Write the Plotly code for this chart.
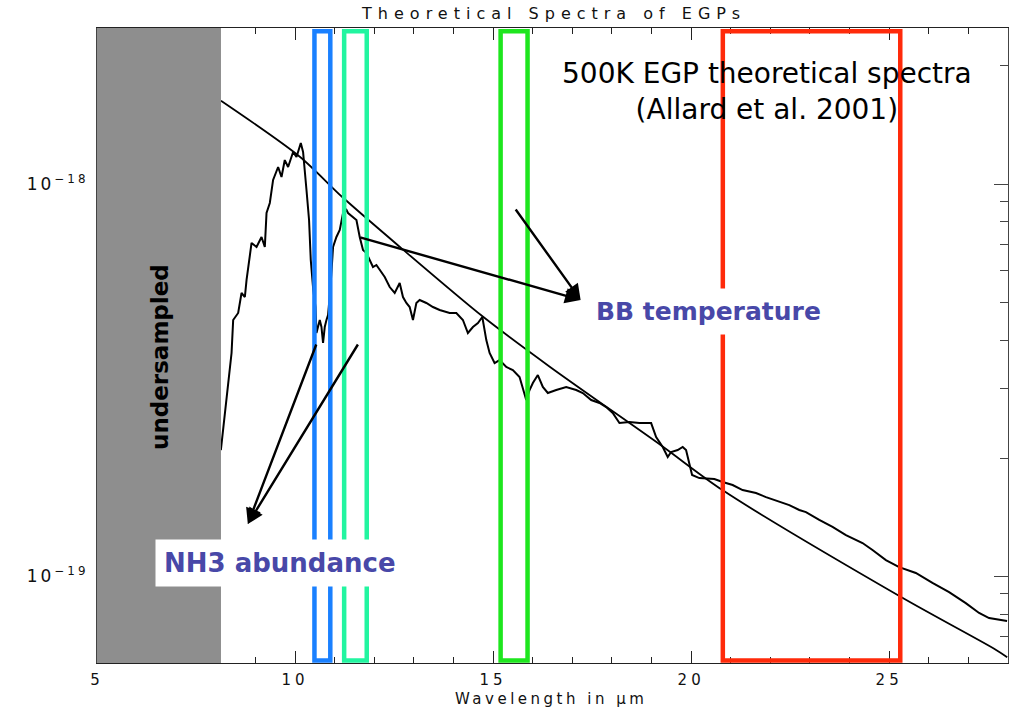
import numpy as np
import plotly.graph_objects as go

# ---------------- data ----------------
# Theoretical 500K EGP spectrum (flux in units of 1e-19)
wavelength_um = [8.127, 8.311, 8.397, 8.438, 8.564, 8.649, 8.733, 8.776, 8.859, 8.902,
                 9.028, 9.154, 9.237, 9.280, 9.363, 9.446, 9.573, 9.658, 9.741, 9.825,
                 9.951, 10.037, 10.145, 10.203, 10.289, 10.354, 10.397, 10.46, 10.516, 10.541,
                 10.624, 10.667, 10.707, 10.750, 10.793, 10.833, 10.889, 10.919, 10.960, 11.045,
                 11.129, 11.212, 11.298, 11.338, 11.464, 11.550, 11.633, 11.716, 11.802, 11.885,
                 11.968, 12.054, 12.180, 12.264, 12.390, 12.516, 12.642, 12.725, 12.811, 12.894,
                 12.977, 13.063, 13.146, 13.315, 13.482, 13.651, 13.903, 14.072, 14.238, 14.364,
                 14.491, 14.617, 14.728, 14.829, 14.912, 15.038, 15.164, 15.333, 15.499, 15.668,
                 15.837, 15.921, 16.004, 16.130, 16.256, 16.382, 16.594, 16.846, 17.098, 17.265,
                 17.477, 17.686, 17.855, 18.021, 18.190, 18.443, 18.695, 18.990, 19.116, 19.283,
                 19.409, 19.494, 19.661, 19.787, 19.872, 19.955, 20.024, 20.208, 20.460, 20.586,
                 20.796, 21.048, 21.300, 21.638, 21.890, 22.226, 22.478, 22.730, 22.899, 23.235,
                 23.570, 23.908, 24.327, 24.579, 24.917, 25.252, 25.673, 26.092, 26.513, 26.934,
                 27.270, 27.522, 27.976]
flux_1e19 = [2.096, 3.162, 3.706, 4.499, 4.688, 5.272, 5.149, 5.691, 6.668, 7.072,
             6.908, 7.326, 6.908, 8.433, 8.944, 10.24, 11.05, 10.42, 11.51, 11.05,
             12.07, 11.72, 12.72, 12.07, 9.654, 8.094, 6.399, 5.366, 4.864, 4.168,
             4.499, 4.317, 3.930, 4.317, 4.499, 4.633, 5.366, 5.929, 6.908, 7.326,
             7.633, 8.433, 8.586, 8.433, 8.239, 8.094, 7.326, 6.786, 6.668, 6.399,
             6.142, 6.214, 5.929, 5.791, 5.460, 5.272, 5.590, 5.149, 4.971, 4.856,
             4.499, 4.971, 5.060, 4.971, 4.856, 4.771, 4.688, 4.688, 4.499, 4.168,
             4.317, 4.419, 4.579, 3.999, 3.706, 3.494, 3.556, 3.413, 3.353, 3.218,
             2.812, 2.982, 3.107, 3.256, 3.035, 2.930, 2.982, 3.035, 2.982, 2.930,
             2.812, 2.763, 2.698, 2.605, 2.456, 2.471, 2.456, 2.456, 2.263, 2.134,
             2.012, 2.072, 2.096, 2.134, 2.096, 1.942, 1.810, 1.778, 1.768, 1.768,
             1.737, 1.707, 1.657, 1.628, 1.590, 1.545, 1.517, 1.474, 1.456, 1.390,
             1.334, 1.272, 1.214, 1.165, 1.098, 1.054, 1.018, 0.960, 0.910, 0.853,
             0.805, 0.781, 0.768]

# Blackbody comparison curve (flux in units of 1e-19)
bb_wavelength_um = [8.13, 10.12, 11.20, 12.64, 14.74, 16.43, 19.28, 20.79, 25.30, 27.70, 27.98]
bb_flux_1e19 = [16.31, 11.74, 9.25, 6.92, 4.59, 3.42, 2.14, 1.657, 0.884, 0.648, 0.621]

# Highlighted wavelength bands
band_x0 = [10.49, 11.24, 15.19, 20.80]
band_x1 = [10.89, 11.81, 15.87, 25.28]
band_colors = ["#1a80ff", "#22f5a0", "#1ee61e", "#ff2a0a"]

# Undersampled region
undersampled_range = [5.0, 8.13]

# Axes
x_range = [5, 28]
x_tick_vals = [5, 10, 15, 20, 25]
y_range_vals = [6e-20, 2.5e-18]
y_tick_vals = [1e-19, 1e-18]
y_tick_text = ["10<sup>\u221219</sup>", "10<sup>\u221218</sup>"]
y_minor_vals = [6e-20, 7e-20, 8e-20, 9e-20, 2e-19, 3e-19, 4e-19, 5e-19,
                6e-19, 7e-19, 8e-19, 9e-19, 2e-18]

# ---------------- figure ----------------
fig = go.Figure()
fig.add_trace(go.Scatter(
    x=bb_wavelength_um, y=np.array(bb_flux_1e19) * 1e-19, mode="lines",
    line=dict(color="black", width=1.8, shape="spline", smoothing=0.8),
    hoverinfo="skip", showlegend=False))
fig.add_trace(go.Scatter(
    x=wavelength_um, y=np.array(flux_1e19) * 1e-19, mode="lines",
    line=dict(color="black", width=2),
    hoverinfo="skip", showlegend=False))

shapes = [dict(type="rect", xref="x", yref="paper",
               x0=undersampled_range[0], x1=undersampled_range[1], y0=0, y1=1,
               fillcolor="#8e8e8e", line=dict(width=0), layer="above")]
for x0, x1, c in zip(band_x0, band_x1, band_colors):
    shapes.append(dict(type="rect", xref="x", yref="paper", x0=x0, x1=x1,
                       y0=0.004, y1=0.995, line=dict(color=c, width=4.5),
                       fillcolor="rgba(0,0,0,0)", layer="above"))

tick_font = dict(family="DejaVu Sans", size=15, color="#111")


def spaced(text, px):
    return '<span style="letter-spacing:%spx">%s</span>' % (px, text)


annotations = [
    # undersampled label
    dict(xref="paper", yref="paper", x=0.0692, y=0.482, xanchor="center", yanchor="middle",
         text="<b>undersampled</b>", textangle=-90, showarrow=False,
         font=dict(family="DejaVu Sans", size=23, color="black")),
    # model label
    dict(xref="paper", yref="paper", x=0.7355, y=0.900, xanchor="center", yanchor="middle",
         text="500K EGP theoretical spectra<br>(Allard et al. 2001)",
         showarrow=False, align="center",
         font=dict(family="DejaVu Sans", size=28, color="black")),
    # BB temperature label
    dict(xref="paper", yref="paper", x=0.6712, y=0.5528, xanchor="center", yanchor="middle",
         text="<b>BB temperature</b>", showarrow=False, bgcolor="white", borderpad=8,
         font=dict(family="DejaVu Sans", size=25, color="#4848a8")),
    # NH3 label
    dict(xref="paper", yref="paper", x=0.2014, y=0.1575, xanchor="center", yanchor="middle",
         text="<b>NH3 abundance</b>", showarrow=False, bgcolor="white", borderpad=8,
         font=dict(family="DejaVu Sans", size=26, color="#4848a8")),
    # x-axis title
    dict(xref="paper", yref="paper", x=0.4989, y=-0.0567, xanchor="center", yanchor="middle",
         text=spaced("Wavelength in \u03bcm", 3.5), showarrow=False,
         font=dict(family="DejaVu Sans", size=15, color="#111")),
]

# arrows: BB temperature
bb_tip = (17.21, 0.5717)
for ax, ay in [(-222, -63), (-66, -92)]:
    annotations.append(dict(xref="x", yref="paper", x=bb_tip[0], y=bb_tip[1],
                            ax=ax, ay=ay, text="", showarrow=True,
                            arrowhead=2, arrowsize=1.3, arrowwidth=2.4,
                            arrowcolor="black"))
# arrows: NH3 abundance
nh3_tip = (8.808, 0.2189)
for ax, ay in [(69, -181), (111, -181)]:
    annotations.append(dict(xref="x", yref="paper", x=nh3_tip[0], y=nh3_tip[1],
                            ax=ax, ay=ay, text="", showarrow=True,
                            arrowhead=2, arrowsize=1.3, arrowwidth=2.4,
                            arrowcolor="black"))

fig.update_layout(
    width=1010, height=709,
    margin=dict(l=97, r=2, t=28, b=46),
    paper_bgcolor="white", plot_bgcolor="white",
    showlegend=False,
    title=dict(text=spaced("Theoretical Spectra of EGPs", 6),
               x=0.5017, xref="paper", xanchor="center",
               y=1 - 13 / 709, yref="container", yanchor="middle",
               font=dict(family="DejaVu Sans", size=16, color="#111")),
    shapes=shapes,
    annotations=annotations,
)

fig.update_xaxes(
    range=x_range, showgrid=False, zeroline=False,
    showline=True, linecolor="#222", linewidth=1.3, mirror="ticks",
    tickmode="array", tickvals=x_tick_vals,
    ticktext=[spaced(v, 4) for v in x_tick_vals],
    ticks="inside", ticklen=12, tickwidth=1.3, tickcolor="#222",
    minor=dict(dtick=1, ticks="inside", ticklen=6, tickwidth=1.2, tickcolor="#222"),
    tickfont=tick_font, ticklabelstandoff=3,
)
fig.update_yaxes(
    type="log", range=[np.log10(y_range_vals[0]), np.log10(y_range_vals[1])],
    showgrid=False, zeroline=False,
    showline=True, linecolor="#444", linewidth=1.2, mirror="ticks",
    tickmode="array", tickvals=y_tick_vals,
    ticktext=[spaced(t, 3) for t in y_tick_text],
    ticks="inside", ticklen=14, tickwidth=1.3, tickcolor="#444",
    minor=dict(tickmode="array", tickvals=y_minor_vals, ticks="inside",
               ticklen=8, tickwidth=1.2, tickcolor="#444"),
    tickfont=dict(family="DejaVu Sans", size=17, color="#111"), ticklabelstandoff=4,
)

fig.write_html("out.html")
